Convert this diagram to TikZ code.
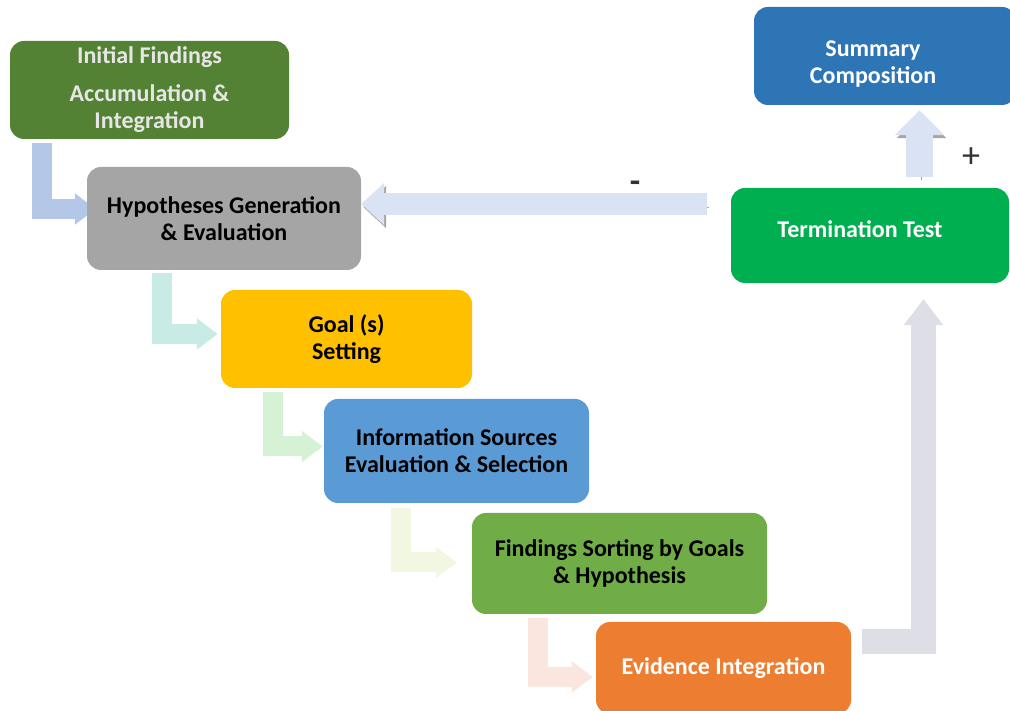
\documentclass[tikz,border=0pt]{standalone}
\usepackage{fontspec}
\setmainfont{Carlito}
\usetikzlibrary{arrows.meta}
\usetikzlibrary{calc}
\usetikzlibrary{backgrounds}

\definecolor{boxOlive}{HTML}{548235}
\definecolor{boxGrey}{HTML}{A5A5A5}
\definecolor{boxGold}{HTML}{FFC000}
\definecolor{boxSky}{HTML}{5B9BD5}
\definecolor{boxLeaf}{HTML}{70AD47}
\definecolor{boxOrange}{HTML}{ED7D31}
\definecolor{boxGreen}{HTML}{00B050}
\definecolor{boxBlue}{HTML}{2E75B6}
\definecolor{textLight}{HTML}{E7E6E6}
\definecolor{arrLavender}{HTML}{B4C7E7}
\definecolor{arrTeal}{HTML}{C9EBE6}
\definecolor{arrMint}{HTML}{D5F2D5}
\definecolor{arrCream}{HTML}{F2F7E1}
\definecolor{arrBlush}{HTML}{FBE5DF}
\definecolor{arrMist}{HTML}{DEDEE6}
\definecolor{arrIce}{HTML}{DAE3F3}

\tikzset{
  stepbox/.style={rectangle, rounded corners=14pt, inner sep=0pt,
    align=center, font=\bfseries\fontsize{24}{27}\selectfont},
  bentarrow/.style={line width=20pt, line join=miter,
    -{Triangle[length=21pt,width=30pt]}},
  loopshadow/.style={preaction={draw=black!35,
    transform canvas={shift={(2pt,-3pt)}}}},
  signlabel/.style={font=\fontsize{36}{36}\selectfont, text=black!80}
}

\begin{document}
\begin{tikzpicture}[x=1pt, y=1pt]

  \useasboundingbox (0,0) rectangle (1010,711);

  \node[stepbox, fill=boxOlive, text=textLight, minimum width=279pt, minimum height=98pt]
    (init) at (149.5,621) {Initial Findings\\[11pt]Accumulation \&\\Integration};
  \node[stepbox, fill=boxGrey, minimum width=274pt, minimum height=103pt]
    (hyp) at (224,492.5) {Hypotheses Generation\\\& Evaluation};
  \node[stepbox, fill=boxGold, minimum width=251pt, minimum height=98pt]
    (goal) at (346.5,372) {Goal (s)\\Setting};
  \node[stepbox, fill=boxSky, minimum width=265pt, minimum height=104pt]
    (info) at (456.5,260) {Information Sources\\Evaluation \& Selection};
  \node[stepbox, fill=boxLeaf, minimum width=295pt, minimum height=101pt]
    (sort) at (619.5,147.5) {Findings Sorting by Goals\\\& Hypothesis};
  \node[stepbox, fill=boxOrange, text=white, minimum width=255pt, minimum height=92pt]
    (evid) at (723.5,43) {Evidence Integration};
  \node[stepbox, fill=boxGreen, text=white, minimum width=278pt, minimum height=95pt,
    text depth=13pt]
    (term) at (870,475.5) {Termination Test\hspace*{20pt}};
  \node[stepbox, fill=boxBlue, text=white, minimum width=262pt, minimum height=98pt]
    (summ) at (885,655) {\rule{0pt}{31pt}Summary\hspace*{24pt}\\Composition\hspace*{24pt}};

  \begin{pgfonlayer}{background}
    % staircase
    \draw[bentarrow, arrLavender] ([shift={(32,-4)}]init.south west) |- ([shift={(9,9.5)}]hyp.west);
    \draw[bentarrow, arrTeal] ([shift={(75,-3)}]hyp.south west) |- ([shift={(-3,5)}]goal.west);
    \draw[bentarrow, arrMint] ([shift={(52,-4)}]goal.south west) |- ([shift={(-1,4.5)}]info.west);
    \draw[bentarrow, arrCream] ([shift={(77,-5)}]info.south west) |- ([shift={(-15,1)}]sort.west);
    \draw[bentarrow, arrBlush] ([shift={(66,-4)}]sort.south west) |- ([shift={(-3,-9)}]evid.west);

    % back up to the test
    \draw[arrMist, line width=25pt, line join=miter, -{Triangle[length=26pt,width=38pt]}]
      ([shift={(11,26.5)}]evid.east) -| ([shift={(53.5,-16)}]term.south);

    % test outcomes
    \draw[arrIce, loopshadow, line width=22pt, -{Triangle[length=23pt,width=41pt]}]
      ([shift={(-24,31.5)}]term.west) coordinate (fb) -- (fb -| hyp.east);
    \draw[arrIce, loopshadow, line width=27pt, -{Triangle[length=25pt,width=48pt]}]
      ([shift={(49.5,11)}]term.north) coordinate (fu) -- ($(fu |- summ.south)+(0,-5)$);
  \end{pgfonlayer}

  \node[signlabel, font=\bfseries\fontsize{34}{34}\selectfont] (minus) at (635,524) {-};
  \node[signlabel] (plus) at (971,553) {+};

\end{tikzpicture}
\end{document}
